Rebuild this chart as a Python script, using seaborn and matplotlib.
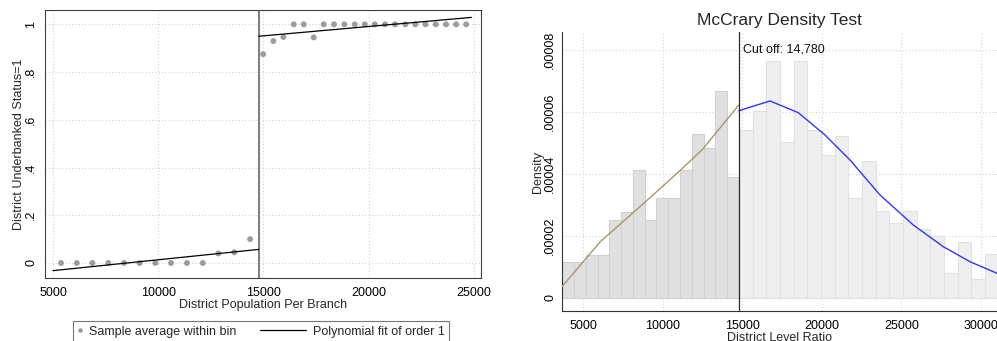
import numpy as np
import pandas as pd
import matplotlib
matplotlib.use("Agg")
import matplotlib.pyplot as plt
import seaborn as sns
from matplotlib.legend_handler import HandlerLine2D
from matplotlib.lines import Line2D

# ---------------- Left panel: RD plot ----------------
cutoff = 14780
bin_x_below = [5380, 6130, 6870, 7630, 8375, 9120, 9865, 10610, 11370, 12120, 12860, 13620, 14370]
bin_y_below = [0, 0, 0, 0, 0, 0, 0, 0, 0, 0, 0.040, 0.045, 0.100]
bin_x_above = [14990, 15475, 15950, 16445, 16920, 17395, 17870, 18360, 18850, 19345, 19820,
               20295, 20785, 21260, 21750, 22225, 22705, 23195, 23685, 24165, 24640]
bin_y_above = [0.875, 0.930, 0.947, 1.0, 1.0, 0.945, 1.0, 1.0, 1.0, 1.0, 1.0,
               1.0, 1.0, 1.0, 1.0, 1.0, 1.0, 1.0, 1.0, 1.0, 1.0]
fit_x_below = [5000, 14780]
fit_y_below = [-0.032, 0.057]
fit_x_above = [14780, 24890]
fit_y_above = [0.950, 1.029]
left_xticks = [5000, 10000, 15000, 20000, 25000]
left_yticks = [0, 0.2, 0.4, 0.6, 0.8, 1.0]
left_yticklabels = ["0", ".2", ".4", ".6", ".8", "1"]

# ---------------- Right panel: McCrary density ----------------
bin_width_below = 740
bin_width_above = 860
density_below = [1.14e-5, 1.14e-5, 1.366e-5, 1.366e-5, 2.516e-5, 2.753e-5, 4.118e-5, 2.516e-5,
                 3.204e-5, 3.204e-5, 4.118e-5, 5.28e-5, 4.817e-5, 6.667e-5, 3.893e-5]
density_above = [5.409e-5, 6.02e-5, 7.63e-5, 5.02e-5, 7.63e-5, 5.409e-5, 4.613e-5, 5.215e-5,
                 3.204e-5, 4.398e-5, 2.796e-5, 2.409e-5, 2.796e-5, 2.204e-5, 2.0e-5, 7.96e-6,
                 1.785e-5, 6.0e-6, 1.398e-5]
curve_x_below = [3660, 6070, 8800, 10780, 12460, 14780]
curve_y_below = [3.55e-6, 1.806e-5, 3.045e-5, 3.958e-5, 4.765e-5, 6.216e-5]
curve_x_above = [14780, 16735, 18514, 20192, 21763, 23649, 25742, 27627, 29305, 31002]
curve_y_above = [6.032e-5, 6.345e-5, 5.968e-5, 5.248e-5, 4.442e-5, 3.313e-5, 2.345e-5,
                 1.645e-5, 1.161e-5, 7.87e-6]
right_xticks = [5000, 10000, 15000, 20000, 25000, 30000]
right_yticks = [0, 0.00002, 0.00004, 0.00006, 0.00008]
right_yticklabels = ["0", ".00002", ".00004", ".00006", ".00008"]

sns.set_style("white")
plt.rcParams["font.family"] = ["Liberation Sans", "DejaVu Sans"]
plt.rcParams["axes.unicode_minus"] = False

fig = plt.figure(figsize=(9.97, 3.41), dpi=100)
ax1 = fig.add_axes([44.7 / 997, 1 - 277.7 / 341, (481 - 44.7) / 997, (277.7 - 10) / 341])
ax2 = fig.add_axes([562.3 / 997, 1 - 311 / 341, (997 - 562.3) / 997, (311 - 32.3) / 341])

grid_kw = dict(ls=(0, (1, 2)), color="#d2d2d2", lw=0.8)

# ---- Left panel ----
ax1.set_axisbelow(True)
ax1.grid(True, **grid_kw)
ax1.axvline(cutoff, color="#808080", lw=1.5, zorder=2)
sns.scatterplot(x=bin_x_below, y=bin_y_below, ax=ax1, color="#9c9c9c", s=18,
                edgecolor="none", zorder=3, legend=False)
sns.scatterplot(x=bin_x_above, y=bin_y_above, ax=ax1, color="#9c9c9c", s=18,
                edgecolor="none", zorder=3, legend=False)
sns.lineplot(x=fit_x_below, y=fit_y_below, ax=ax1, color="black", lw=0.9, zorder=4, legend=False)
sns.lineplot(x=fit_x_above, y=fit_y_above, ax=ax1, color="black", lw=0.9, zorder=4, legend=False)
ax1.set_xlim(4605, 25347)
ax1.set_ylim(-0.0616, 1.06)
ax1.set_xticks(left_xticks)
ax1.set_xticklabels([str(t) for t in left_xticks])
ax1.set_yticks(left_yticks)
ax1.set_yticklabels(left_yticklabels, rotation=90, va="center")
ax1.tick_params(axis="both", direction="out", length=3, width=0.8, color="#444444",
                labelsize=9, labelcolor="black")
ax1.tick_params(axis="x", pad=3.5)
ax1.tick_params(axis="y", pad=2.5)
for s in ax1.spines.values():
    s.set_visible(True)
    s.set_color("#404040")
    s.set_linewidth(0.8)
ax1.set_xlabel("District Population Per Branch", fontsize=9, labelpad=0)
ax1.set_ylabel("District Underbanked Status=1", fontsize=9, labelpad=0)


class LongLineHandler(HandlerLine2D):
    def __init__(self, extra, **kw):
        super().__init__(**kw)
        self.extra = extra

    def get_xdata(self, legend, xdescent, ydescent, width, height, fontsize):
        xdata, xm = super().get_xdata(legend, xdescent, ydescent, width, height, fontsize)
        return [-xdescent - self.extra * fontsize, -xdescent + width], xm


h_pts = Line2D([], [], marker="o", ls="none", color="#9c9c9c", markersize=3.3, markeredgewidth=0)
h_fit = Line2D([], [], color="black", lw=0.9)
leg = fig.legend([h_pts, h_fit], ["Sample average within bin", "Polynomial fit of order 1"],
                 loc="upper center", bbox_to_anchor=(261 / 997, 1 - 320.7 / 341), ncol=2,
                 frameon=True, fancybox=False, edgecolor="#555555", fontsize=9,
                 borderpad=0.4, handlelength=0.4, handletextpad=0.5, columnspacing=5.2,
                 borderaxespad=0, numpoints=1,
                 handler_map={h_fit: LongLineHandler(3.28, numpoints=1)})
leg.get_frame().set_linewidth(0.8)

# ---- Right panel ----
ax2.set_axisbelow(True)
ax2.grid(True, **grid_kw)
n_b = len(density_below)
n_a = len(density_above)
edges_below = [float(e) for e in cutoff - bin_width_below * np.arange(n_b, -1, -1)]
edges_above = [float(e) for e in cutoff + bin_width_above * np.arange(0, n_a + 1)]
df_below = pd.DataFrame({
    "x": [(a + b) / 2 for a, b in zip(edges_below[:-1], edges_below[1:])],
    "density": density_below,
})
df_above = pd.DataFrame({
    "x": [(a + b) / 2 for a, b in zip(edges_above[:-1], edges_above[1:])],
    "density": density_above,
})
sns.histplot(data=df_below, x="x", weights="density", bins=edges_below, ax=ax2,
             color="#e0e0e0", edgecolor="#d0d0d0", linewidth=0.8, alpha=1, zorder=2)
sns.histplot(data=df_above, x="x", weights="density", bins=edges_above, ax=ax2,
             color="#efefef", edgecolor="#e1e1e1", linewidth=0.8, alpha=1, zorder=2)
sns.lineplot(x=curve_x_below, y=curve_y_below, ax=ax2, color="#a8966a", lw=1.0,
             sort=False, zorder=4, legend=False)
sns.lineplot(x=curve_x_above, y=curve_y_above, ax=ax2, color="#3434ff", lw=1.0,
             sort=False, zorder=4, legend=False)
ax2.axvline(cutoff, color="#2a2a2a", lw=0.9, zorder=5)
ax2.annotate("Cut off: 14,780", xy=(cutoff, 0.00008), xytext=(3, 0),
             textcoords="offset points", fontsize=9, va="center", ha="left", color="#111111")
ax2.set_xlim(3680, 31006)
ax2.set_ylim(-4.3e-6, 8.56e-5)
ax2.set_xticks(right_xticks)
ax2.set_xticklabels([str(t) for t in right_xticks])
ax2.set_yticks(right_yticks)
ax2.set_yticklabels(right_yticklabels, rotation=90, va="center")
ax2.tick_params(axis="both", direction="out", length=3.3, width=0.8, color="#444444",
                labelsize=9, labelcolor="black")
ax2.tick_params(axis="x", pad=3)
ax2.tick_params(axis="y", pad=1.2)
for side in ["top", "right"]:
    ax2.spines[side].set_visible(False)
for side in ["left", "bottom"]:
    ax2.spines[side].set_visible(True)
    ax2.spines[side].set_color("#333333")
    ax2.spines[side].set_linewidth(0.8)
ax2.set_xlabel("District Level Ratio", fontsize=9, labelpad=0)
ax2.set_ylabel("Density", fontsize=9, labelpad=0)
ax2.set_title("McCrary Density Test", fontsize=12.5, pad=5.5)

fig.savefig("out.png", dpi=100)
